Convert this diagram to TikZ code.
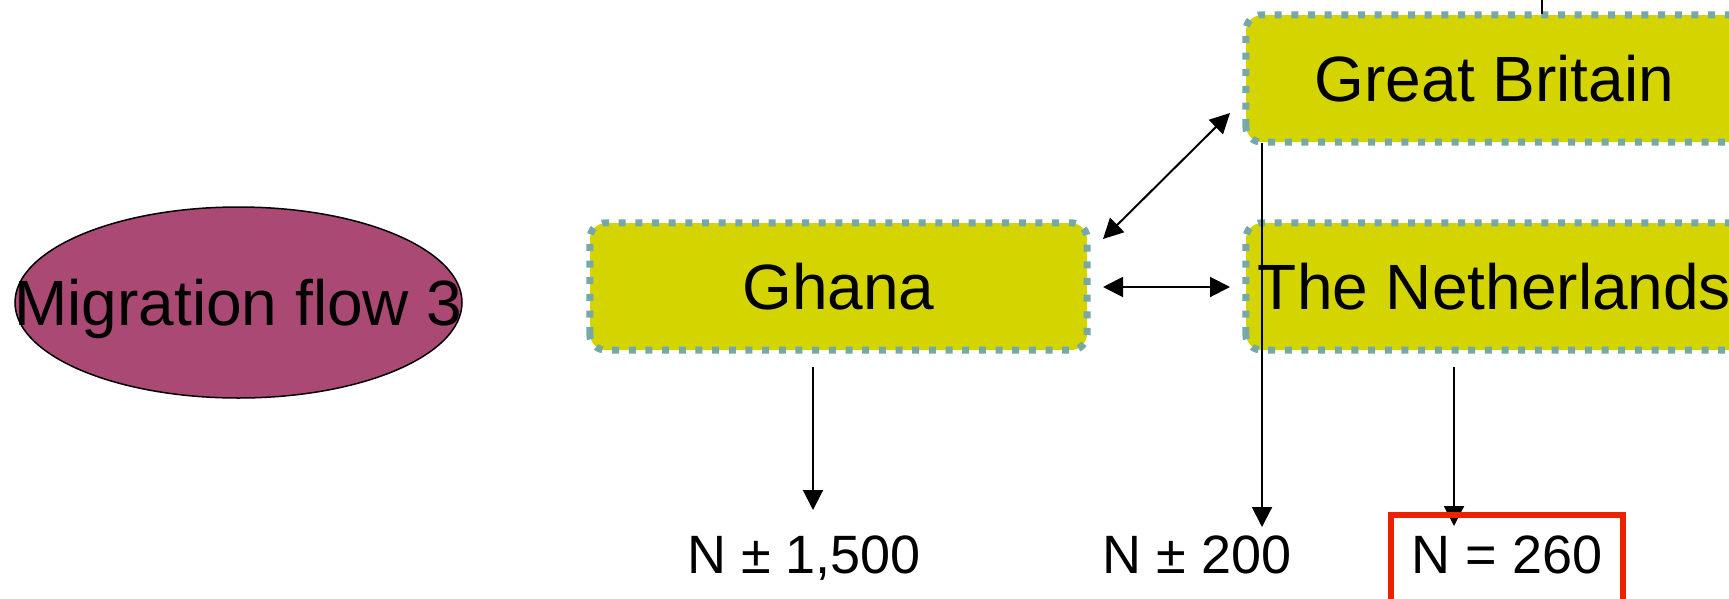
\documentclass[tikz,border=0pt]{standalone}
\usepackage{fontspec}
\setmainfont{Liberation Sans}
\usetikzlibrary{arrows.meta,shapes.geometric}
\definecolor{boxfill}{RGB}{212,212,0}
\definecolor{dotc}{RGB}{118,168,170}
\definecolor{flowc}{RGB}{170,74,116}
\definecolor{framered}{RGB}{238,34,0}
\begin{document}
\begin{tikzpicture}[x=1pt,y=-1pt,
  country/.style={fill=boxfill, minimum width=497pt, minimum height=127pt, inner sep=0pt,
    rounded corners=16pt, text depth=0pt, font=\fontsize{64pt}{70pt}\selectfont},
  dotborder/.style={draw=dotc, line width=7pt, line cap=butt, dash pattern=on 7pt off 9.67pt, rounded corners=16pt},
  bigtext/.style={inner sep=0pt, text depth=0pt, font=\fontsize{64pt}{70pt}\selectfont},
  count/.style={inner sep=0pt, anchor=base, font=\fontsize{54pt}{60pt}\selectfont},
  arr/.style={line width=2pt, -{Triangle[length=20pt,width=20pt]}},
  dbl/.style={line width=2pt, {Triangle[length=20pt,width=20pt]}-{Triangle[length=20pt,width=20pt]}},
  plain/.style={line width=2pt},
  redframe/.style={draw=framered, line width=5.5pt, minimum width=232pt, minimum height=160pt, inner sep=0pt, anchor=north}
]
\clip (0,0) rectangle (1729,598);

% ellipse
\node[ellipse, draw=black, line width=1.5pt, fill=flowc, minimum width=447pt, minimum height=191pt, inner sep=0pt] (flow) at (238.5,302.5) {};
\node[bigtext] (flowtxt) at (flow.center) {Migration flow 3};

% country boxes
\node[country] (ghana) at (838.5,286.5) {Ghana};
\node[country] (gb) at (1494.5,78.5) {Great Britain};
\node[country] (nl) at (1494.5,286.5) {The Netherlands};
\draw[dotborder] (ghana.south west) rectangle (ghana.north east);
\draw[dotborder] (gb.south west) rectangle (gb.north east);
\draw[dotborder] (nl.south west) rectangle (nl.north east);

% counts
\node[count] (c1) at (804,573) {N ± 1,500};
\node[count] (c2) at (1197,573) {N ± 200};
\node[count] (c3) at (1507,573) {N = 260};

% connector coordinates
\coordinate (top) at (1542,-5);
\coordinate (gbtop) at (1542,14);
\coordinate (gA) at (813,367);
\coordinate (gB) at (813,510);
\coordinate (bA) at (1262,143);
\coordinate (bB) at (1262,527);
\coordinate (nA) at (1454,367);
\coordinate (nB) at (1454,526);
\coordinate (dA) at (1103,239);
\coordinate (dB) at (1230,113);
\coordinate (hA) at (1103,287);
\coordinate (hB) at (1230,287);

\draw[plain] (top) -- (gbtop);
\draw[arr] (gA) -- (gB);
\draw[arr] (bA) -- (bB);
\draw[arr] (nA) -- (nB);
\draw[dbl] (dA) -- (dB);
\draw[dbl] (hA) -- (hB);

% red frame
\node[redframe] (frame) at (1507,512) {};
\end{tikzpicture}
\end{document}
